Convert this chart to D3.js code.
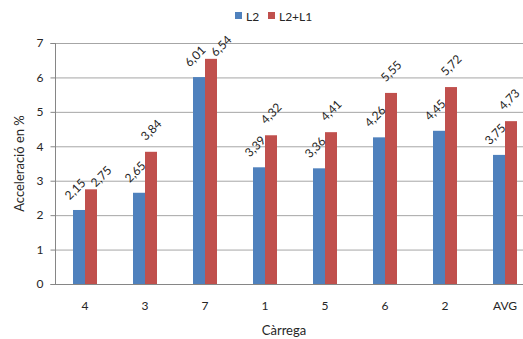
<!DOCTYPE html>
<html><head><meta charset="utf-8">
<script src="https://cdn.jsdelivr.net/npm/d3@7"></script>
<style>body{margin:0;background:#fff}svg{display:block;font-family:Lato,"Open Sans",sans-serif}</style>
</head><body><svg id="c" width="523" height="339"></svg>
<script>
const categories = ["4","3","7","1","5","6","2","AVG"];
const seriesNames = ["L2","L2+L1"];
const l2 = [2.15,2.65,6.01,3.39,3.36,4.26,4.45,3.75];
const l2l1 = [2.75,3.84,6.54,4.32,4.41,5.55,5.72,4.73];
const yTicks = [0,1,2,3,4,5,6,7];
const colors = ["#4F81BD","#C0504D"];

(function(){
const svg = d3.select("#c");
const W = 523;
const pLeft = 55, pRight = 535, pTop = 43, pBottom = 284;
const x = d3.scaleBand().domain(categories).range([pLeft, pRight]).padding(0);
const x1 = d3.scaleBand().domain(seriesNames).range([18, 42]).padding(0);
const y = d3.scaleLinear().domain([0,7]).range([pBottom, pTop]);
const fmt = d3.formatLocale({decimal:",",thousands:".",grouping:[3],currency:["","€"]}).format(".2f");

// gridlines
svg.append("g").selectAll("line").data(yTicks.filter(d=>d>0)).join("line")
  .attr("x1", pLeft).attr("x2", W).attr("y1", d=>y(d)+0.5).attr("y2", d=>y(d)+0.5)
  .attr("stroke", "#A6A6A6").attr("stroke-width", 1);

// y axis
const ya = svg.append("g").attr("transform", `translate(${pLeft+0.5},0)`)
  .call(d3.axisLeft(y).tickValues(yTicks).tickSize(5).tickPadding(7).tickFormat(d3.format("d")));
ya.select(".domain").attr("stroke","#868686").attr("d", `M-5,${y(7)+0.5}H0V${pBottom+0.5}H-5`);
ya.selectAll(".tick line").attr("stroke","#868686");
ya.selectAll("text").attr("font-size", 12).attr("fill","#262626").attr("font-family","Lato");

// bars
const data = categories.map((c,i)=>({c, vals:[l2[i], l2l1[i]]}));
const g = svg.append("g");
g.selectAll("g").data(data).join("g")
  .attr("transform", d=>`translate(${x(d.c)},0)`)
  .selectAll("rect").data(d=>d.vals.map((v,k)=>({v,k}))).join("rect")
  .attr("x", d=>x1(seriesNames[d.k])).attr("width", x1.bandwidth())
  .attr("y", d=>y(d.v)).attr("height", d=>pBottom - y(d.v))
  .attr("fill", d=>colors[d.k]);

// x axis line
svg.append("line").attr("x1", pLeft).attr("x2", W).attr("y1", pBottom+0.5).attr("y2", pBottom+0.5)
  .attr("stroke","#868686");

// x tick labels
svg.append("g").selectAll("text").data(categories).join("text")
  .attr("x", d=>x(d)+x.bandwidth()/2).attr("y", 310)
  .attr("text-anchor","middle").attr("font-size",12).attr("fill","#262626").text(d=>d);

// data labels
const labels = [];
data.forEach(d=>{
  d.vals.forEach((v,k)=>{
    let cx = x(d.c) + x1(seriesNames[k]) + x1.bandwidth()/2;
    let cy = y(v);
    if (k===0) { cx -= 4; cy -= 21; }
    else {
      const blueTop = y(d.vals[0]);
      if (blueTop - y(v) < 25) { cx += 10; cy -= 13; }
      else { cy -= 22; }
    }
    cx = Math.min(cx, W - 14);
    labels.push({cx, cy, t: fmt(v)});
  });
});
svg.append("g").selectAll("text").data(labels).join("text")
  .attr("transform", d=>`translate(${d.cx},${d.cy}) rotate(-45)`)
  .attr("text-anchor","middle").attr("dominant-baseline","central")
  .attr("font-size",12).attr("fill","#262626").text(d=>d.t);

// axis titles
svg.append("text").attr("x", (pLeft+W)/2 - 5).attr("y", 335).attr("text-anchor","middle")
  .attr("font-size",13).attr("fill","#262626").text("Càrrega");
svg.append("text").attr("transform", `translate(24,${(pTop+pBottom)/2}) rotate(-90)`)
  .attr("text-anchor","middle").attr("font-size",13).attr("fill","#262626").text("Acceleració en %");

// legend
const leg = svg.append("g");
const legX = [235, 268];
seriesNames.forEach((s,i)=>{
  leg.append("rect").attr("x", legX[i]).attr("y", 12).attr("width",7).attr("height",7).attr("fill",colors[i]);
  leg.append("text").attr("x", legX[i]+11).attr("y", 20.5).attr("font-size",12).attr("fill","#262626").text(s);
});
})();
</script></body></html>
